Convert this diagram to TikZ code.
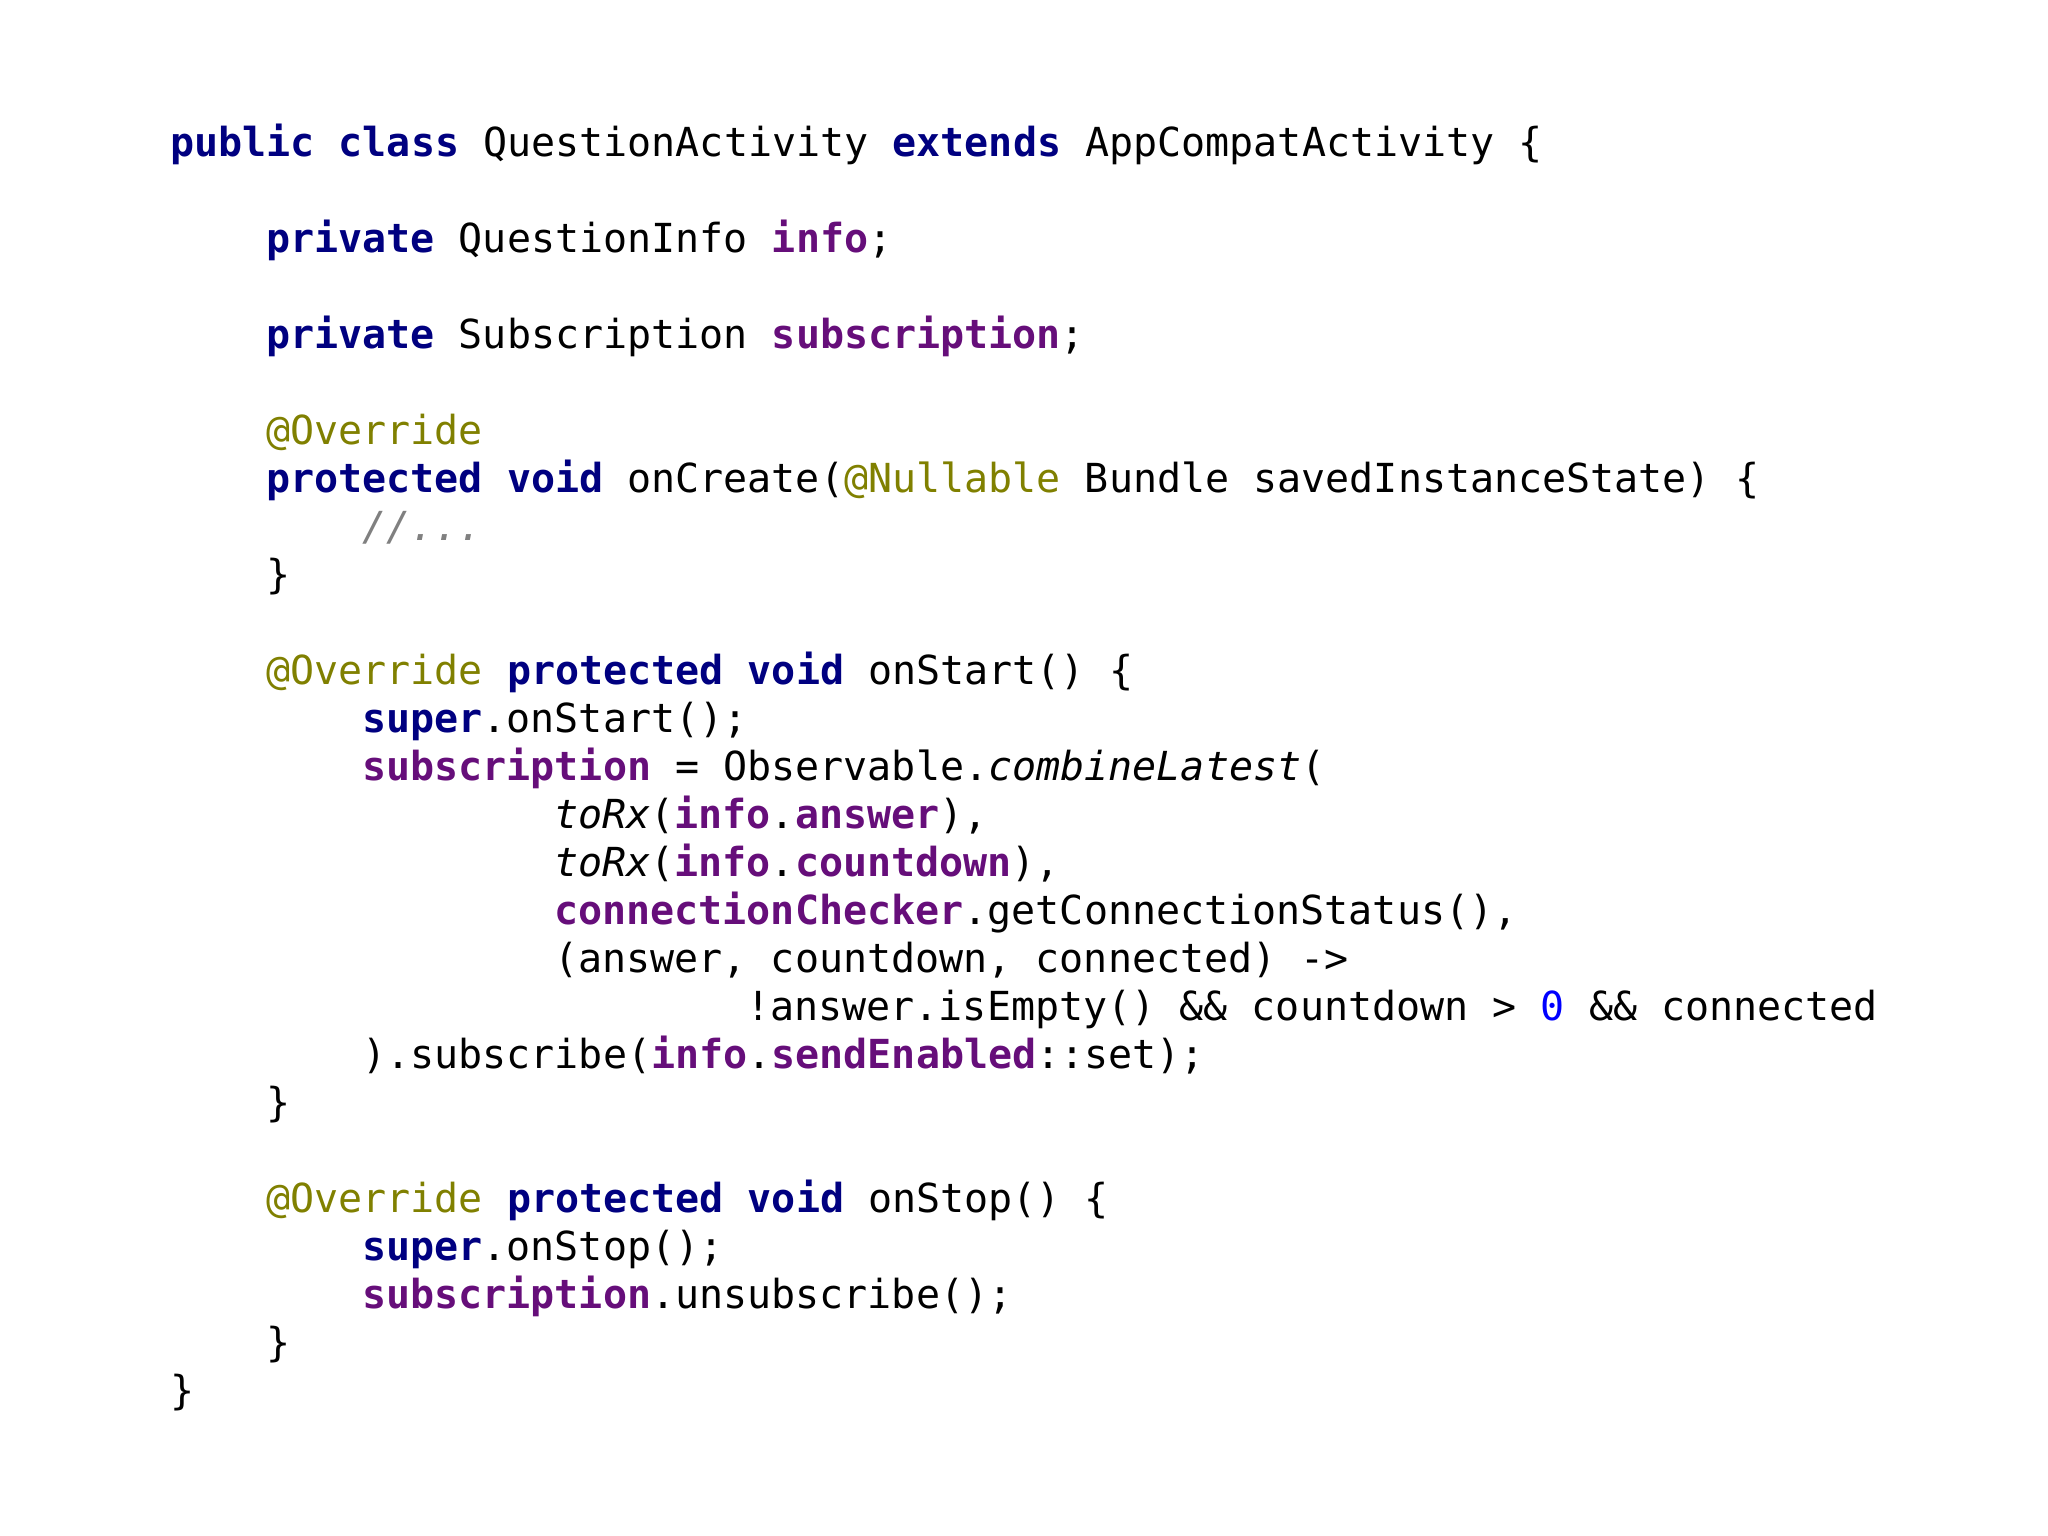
\documentclass[tikz,border=0pt]{standalone}
\usepackage{fontspec}
\setmonofont{DejaVu Sans Mono}
\definecolor{kwc}{HTML}{000080}
\definecolor{fdc}{HTML}{660E7A}
\definecolor{anc}{HTML}{808000}
\definecolor{cmc}{HTML}{808080}
\definecolor{nmc}{HTML}{0000FF}
\newcommand{\kwd}[1]{\textcolor{kwc}{\textbf{#1}}}
\newcommand{\fld}[1]{\textcolor{fdc}{\textbf{#1}}}
\newcommand{\ann}[1]{\textcolor{anc}{#1}}
\newcommand{\cmt}[1]{\textcolor{cmc}{\textit{#1}}}
\newcommand{\nmb}[1]{\textcolor{nmc}{#1}}
\begin{document}
\begin{tikzpicture}[x=1pt,y=1pt,
  codeline/.style={anchor=base west,inner sep=0pt,font=\ttfamily\fontsize{40}{48}\selectfont,text=black}]
\useasboundingbox (0,0) rectangle (2048,1536);
\def\L#1#2#3#4{\node[codeline] (#1) at ({170+24*#2},{1379-48*#3}) {#4};}
\L{l0}{0}{0}{\kwd{public} \kwd{class} QuestionActivity \kwd{extends} AppCompatActivity \{}
\L{l2}{4}{2}{\kwd{private} QuestionInfo \fld{info};}
\L{l4}{4}{4}{\kwd{private} Subscription \fld{subscription};}
\L{l6}{4}{6}{\ann{@Override}}
\L{l7}{4}{7}{\kwd{protected} \kwd{void} onCreate(\ann{@Nullable} Bundle savedInstanceState) \{}
\L{l8}{8}{8}{\cmt{//...}}
\L{l9}{4}{9}{\}}
\L{l11}{4}{11}{\ann{@Override} \kwd{protected} \kwd{void} onStart() \{}
\L{l12}{8}{12}{\kwd{super}.onStart();}
\L{l13}{8}{13}{\fld{subscription} = Observable.\textit{combineLatest}(}
\L{l14}{16}{14}{\textit{toRx}(\fld{info}.\fld{answer}),}
\L{l15}{16}{15}{\textit{toRx}(\fld{info}.\fld{countdown}),}
\L{l16}{16}{16}{\fld{connectionChecker}.getConnectionStatus(),}
\L{l17}{16}{17}{(answer, countdown, connected) ->}
\L{l18}{24}{18}{!answer.isEmpty() \&\& countdown > \nmb{0} \&\& connected}
\L{l19}{8}{19}{).subscribe(\fld{info}.\fld{sendEnabled}::set);}
\L{l20}{4}{20}{\}}
\L{l22}{4}{22}{\ann{@Override} \kwd{protected} \kwd{void} onStop() \{}
\L{l23}{8}{23}{\kwd{super}.onStop();}
\L{l24}{8}{24}{\fld{subscription}.unsubscribe();}
\L{l25}{4}{25}{\}}
\L{l26}{0}{26}{\}}
\end{tikzpicture}
\end{document}
